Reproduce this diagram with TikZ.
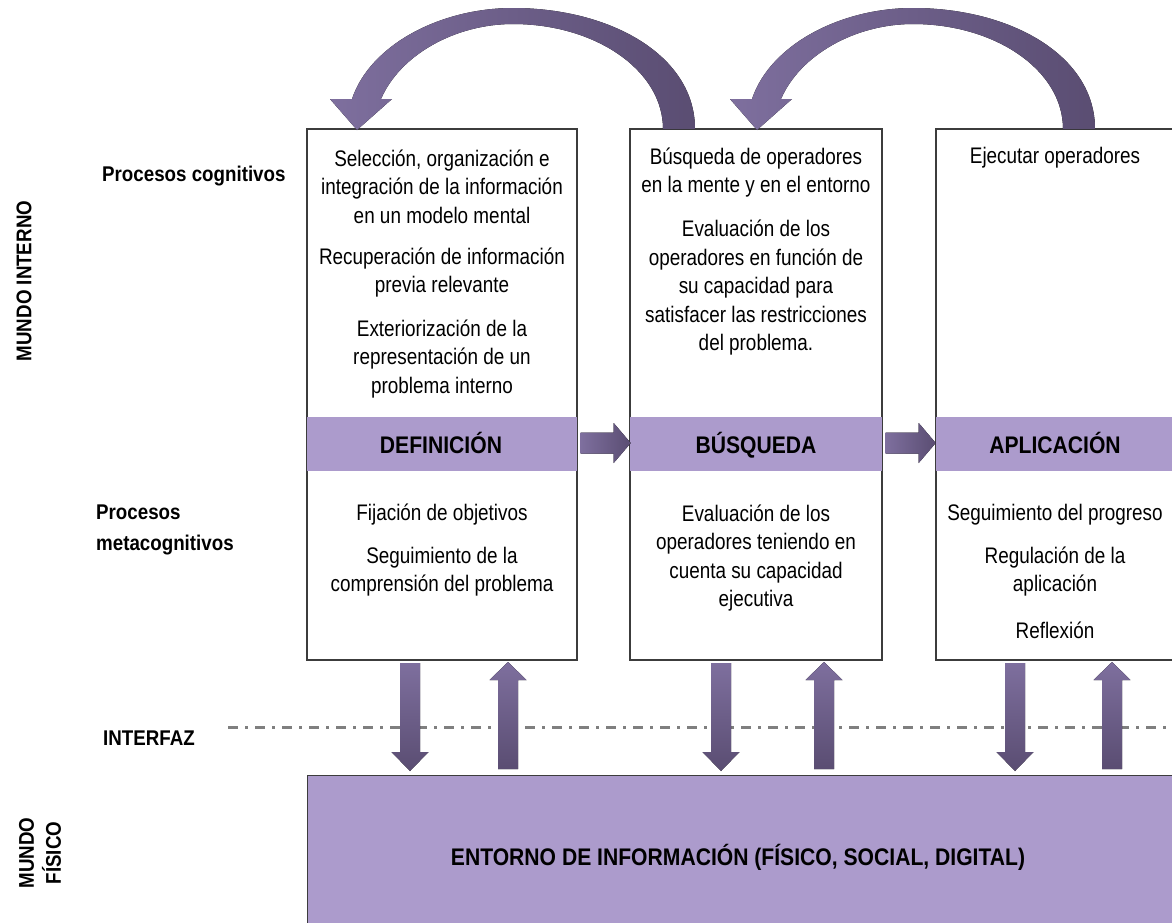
\documentclass[tikz,border=0pt]{standalone}
\usepackage{fontspec}
\setmainfont[FakeStretch=0.84]{Liberation Sans}
\newfontfamily\lblfont[FakeStretch=0.88]{Liberation Sans}
\usetikzlibrary{calc}
\definecolor{bandc}{HTML}{AC9BCC}
\definecolor{arrL}{HTML}{7E6F9E}
\definecolor{arrD}{HTML}{5A4D72}
\definecolor{edgec}{HTML}{3C3C3C}
\definecolor{dashc}{HTML}{7F7F7F}
\begin{document}
\begin{tikzpicture}[x=1pt,y=-1pt,
  body/.style={align=center, font=\fontsize{22.5}{28.5}\selectfont, inner sep=0pt},
  lbl/.style={font=\lblfont\bfseries\fontsize{24}{28}\selectfont, inner sep=0pt, anchor=base},
  side/.style={font=\lblfont\bfseries\fontsize{21.3}{31}\selectfont, inner sep=0pt, align=left},
  boxn/.style={draw=edgec, line width=1.4pt, fill=white, inner sep=0pt},
  bandn/.style={fill=bandc, inner sep=0pt, minimum height=54pt},
  border/.style={draw=edgec, line width=1.4pt},
  vshade/.style={top color=arrL, bottom color=arrD, draw=none},
  hshade/.style={left color=arrL, right color=arrD, draw=none},
  downarr/.pic={\fill[vshade] (-10,0) -- (10,0) -- (10,89) -- (18.5,89) -- (0,108) -- (-18.5,89) -- (-10,89) -- cycle;},
  uparr/.pic={\fill[vshade] (0,0) -- (18.5,18) -- (10,18) -- (10,107) -- (-10,107) -- (-10,18) -- (-18.5,18) -- cycle;},
  rightarr/.pic={\fill[hshade] (0,-10.5) -- (33,-10.5) -- (33,-20) -- (50,0) -- (33,20) -- (33,10.5) -- (0,10.5) -- cycle;},
  curvarr/.pic={\fill[hshade] (0,130) -- (-27,99) -- (-5,99)
      .. controls (13,45) and (83,8) .. (156,8)
      .. controls (253,8) and (338,55) .. (338,129)
      -- (306,129)
      .. controls (306,70) and (238,24) .. (156,24)
      .. controls (98,24) and (43,55) .. (24,99)
      -- (35,99) -- cycle;}
]
\useasboundingbox (0,0) rectangle (1172,922);
\clip (0,0) rectangle (1172,922);

% dash-dot interface line
\coordinate (if0) at (228,727);
\coordinate (if1) at (1172,727);
\draw[dashc, line width=3pt, dash pattern=on 10pt off 7pt on 3pt off 7pt] (if0) -- (if1);

% boxes
\node[boxn, minimum width=270pt, minimum height=531pt] (b1) at (442,394.5) {};
\node[boxn, minimum width=252pt, minimum height=531pt] (b2) at (756,394.5) {};
\node[boxn, minimum width=244pt, minimum height=531pt] (b3) at (1058,394.5) {};

% bands
\node[bandn, minimum width=270pt] (l1) at (442,444) {};
\node[bandn, minimum width=252pt] (l2) at (756,444) {};
\node[bandn, minimum width=244pt] (l3) at (1058,444) {};
\node[lbl] (n1) at (441,453) {DEFINICIÓN};
\node[lbl] (n2) at (756,453) {BÚSQUEDA};
\node[lbl] (n3) at (1055,453) {APLICACIÓN};

\draw[border] (b1.north west) rectangle (b1.south east);
\draw[border] (b2.north west) rectangle (b2.south east);
\draw[border] (b3.north west) rectangle (b3.south east);

% environment
\node[draw=edgec, line width=1.4pt, fill=bandc, minimum width=880pt, minimum height=160pt, anchor=north west] (env) at (307,775) {};
\node[lbl] (envt) at (738,865) {ENTORNO DE INFORMACIÓN (FÍSICO, SOCIAL, DIGITAL)};

% box texts
\node[body] (t11) at (442,186.5) {Selección, organización e\\integración de la información\\en un modelo mental};
\node[body] (t12) at (442,272.5) {Recuperación de información\\previa relevante};
\node[body] (t13) at (442,359) {Exteriorización de la\\representación de un\\problema interno};
\node[body] (t14) at (442,515) {Fijación de objetivos};
\node[body] (t15) at (442,571.5) {Seguimiento de la\\comprensión del problema};

\node[body] (t21) at (756,172.5) {Búsqueda de operadores\\en la mente y en el entorno};
\node[body] (t22) at (756,288) {Evaluación de los\\operadores en función de\\su capacidad para\\satisfacer las restricciones\\del problema.};
\node[body] (t23) at (756,558) {Evaluación de los\\operadores teniendo en\\cuenta su capacidad\\ejecutiva};

\node[body] (t31) at (1055,158) {Ejecutar operadores};
\node[body] (t32) at (1055,515) {Seguimiento del progreso};
\node[body] (t33) at (1055,571.5) {Regulación de la\\aplicación};
\node[body] (t34) at (1055,630) {Reflexión};

% side labels
\node[side, anchor=west] (pc) at (102,176) {Procesos cognitivos};
\node[side, anchor=west] (pm) at (96,529.5) {Procesos\\metacognitivos};
\node[side, anchor=west] (ifz) at (103,738) {INTERFAZ};
\node[side, rotate=90] (mi) at (24,281) {MUNDO INTERNO};
\node[side, rotate=90, align=center, font=\lblfont\bfseries\fontsize{21.3}{27}\selectfont] (mf) at (40,853) {MUNDO\\FÍSICO};

% horizontal arrows between boxes
\pic at ($(b1.east)+(3,48.5)$) {rightarr};
\pic at ($(b2.east)+(3,48.5)$) {rightarr};

% vertical arrows
\pic at (410,663) {downarr};
\pic at (508,662) {uparr};
\pic at (721,663) {downarr};
\pic at (824,662) {uparr};
\pic at (1015,663) {downarr};
\pic at (1112,662) {uparr};

% curved arrows
\pic at (357,0) {curvarr};
\pic at (757,0) {curvarr};
\end{tikzpicture}
\end{document}
